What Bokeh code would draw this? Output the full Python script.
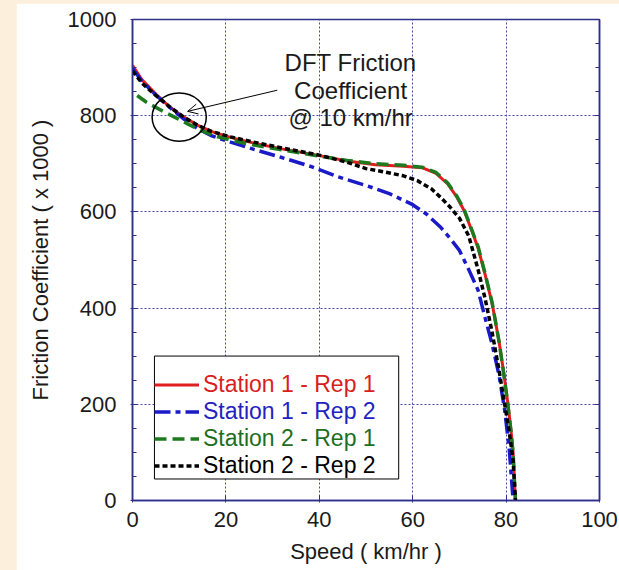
from bokeh.plotting import figure
from bokeh.models import (Range1d, LinearAxis, SingleIntervalTicker, Legend, LegendItem,
                          Arrow, OpenHead, BoxAnnotation)
from bokeh.core.properties import value
from bokeh.embed import file_html
from bokeh.resources import INLINE

# ---- data ----
s1r1_x = [0, 2, 5, 8, 11, 14, 17, 21, 26, 32, 40, 46, 52, 58, 62, 65, 67.5, 69.5, 71, 72.5, 74, 75.5, 77, 78.5, 79.5, 80.4, 81, 81.5, 82]
s1r1_y = [905, 875, 845, 818, 797, 780, 767, 755, 743, 731, 717, 706, 698, 695, 692, 680, 658, 630, 603, 565, 525, 470, 410, 330, 265, 200, 150, 100, 0]

s1r2_x = [0, 2, 5, 8, 11, 14, 17, 21, 26, 32, 38, 44, 50, 55, 60, 63, 66, 68, 70, 72, 74, 75.5, 77, 78.5, 79.7, 80.7, 81.5]
s1r2_y = [898, 872, 843, 817, 793, 773, 758, 745, 730, 713, 695, 673, 655, 638, 615, 595, 568, 545, 520, 480, 437, 380, 325, 260, 188, 104, 0]

s2r1_x = [1, 3, 6, 9, 12, 15, 18, 21, 26, 32, 40, 46, 52, 58, 62, 65, 67.5, 69.5, 71, 72.5, 74, 75.5, 77, 78.5, 79.5, 80.4, 81, 81.5, 82]
s2r1_y = [842, 828, 812, 797, 782, 768, 757, 749, 739, 729, 716, 707, 700, 697, 693, 682, 660, 632, 605, 567, 528, 472, 412, 330, 263, 198, 148, 98, 0]

s2r2_x = [0, 2, 5, 8, 11, 14, 17, 21, 26, 32, 40, 46, 50, 54, 58, 61, 64, 66, 68, 70, 72, 74, 75.5, 77, 78.5, 79.7, 80.7, 81.5, 82]
s2r2_y = [893, 868, 842, 818, 797, 780, 767, 756, 745, 733, 718, 703, 690, 683, 675, 665, 648, 630, 610, 587, 550, 480, 420, 350, 270, 200, 140, 84, 0]

series_labels = ["Station 1 - Rep 1", "Station 1 - Rep 2", "Station 2 - Rep 1", "Station 2 - Rep 2"]

# annotation (DFT friction coefficient at 10 km/hr)
dft_speed = [10]
dft_value = [797]
note_lines = ["DFT Friction", "Coefficient", "@ 10 km/hr"]
note_x = [46.7, 46.7, 46.7]
note_y = [910, 853, 796]
arrow_from = (31, 853)
arrow_to = (11.8, 809)

# legend frame (in axis units)
legend_box = dict(left=4.7, right=57.0, bottom=44.7, top=300.3)

FONT = "Liberation Sans"
AXC = "#2e2e8c"
GRIDC = "#4a4aa8"

p = figure(width=603, height=567, output_backend="svg", toolbar_location=None,
           x_range=Range1d(0, 100), y_range=Range1d(0, 1000),
           min_border_left=116, min_border_right=20, min_border_top=16, min_border_bottom=70,
           background_fill_color="white", border_fill_color="white",
           outline_line_color=AXC, outline_line_width=1.5)

# axes
p.xaxis.ticker = SingleIntervalTicker(interval=20, num_minor_ticks=0)
p.yaxis.ticker = SingleIntervalTicker(interval=200, num_minor_ticks=4)
for ax in (p.xaxis[0], p.yaxis[0]):
    ax.axis_line_color = AXC
    ax.axis_line_width = 1.5
    ax.major_tick_line_color = AXC
    ax.minor_tick_line_color = AXC
    ax.major_tick_in = 5
    ax.major_tick_out = 2
    ax.minor_tick_in = 4
    ax.minor_tick_out = 0
    ax.major_label_text_font = FONT
    ax.major_label_text_font_size = "22px"
    ax.major_label_text_color = "#1a1a1a"
    ax.axis_label_text_font = FONT
    ax.axis_label_text_font_size = "22px"
    ax.axis_label_text_font_style = "normal"
    ax.axis_label_text_color = "#1a1a1a"
p.xaxis.minor_tick_line_color = None
p.xaxis.axis_label = "Speed ( km/hr )"
p.yaxis.axis_label = "Friction Coefficient ( x 1000 )"
p.xaxis.major_label_standoff = 9
p.xaxis.axis_label_standoff = 9
p.yaxis.major_label_standoff = 14
p.yaxis.axis_label_standoff = 12

rax = LinearAxis(ticker=SingleIntervalTicker(interval=200, num_minor_ticks=4),
                 axis_line_color=AXC, axis_line_width=1.5,
                 major_tick_line_color=AXC, minor_tick_line_color=AXC,
                 major_tick_in=5, major_tick_out=0, minor_tick_in=4, minor_tick_out=0,
                 major_label_text_font_size="1px", major_label_text_color=None,
                 major_label_standoff=0)
p.add_layout(rax, "right")

# grid
p.xgrid.grid_line_color = GRIDC
p.ygrid.grid_line_color = GRIDC
p.xgrid.grid_line_dash = "2 2"
p.ygrid.grid_line_dash = "2 2"
p.xgrid.grid_line_width = 1
p.ygrid.grid_line_width = 1

# curves
r_red = p.line(s1r1_x, s1r1_y, line_color="#e01e1e", line_width=3)
r_blue = p.line(s1r2_x, s1r2_y, line_color="#1a1ac8", line_width=3.5, line_dash="16 5 5 5")
r_green = p.line(s2r1_x, s2r1_y, line_color="#1e7a1e", line_width=3.5, line_dash="12 6")
r_black = p.line(s2r2_x, s2r2_y, line_color="#000000", line_width=3.5, line_dash="5 3")
renderers = [r_red, r_blue, r_green, r_black]
text_colors = ["#d81e1e", "#2222c0", "#1e6e1e", "#000000"]

# annotation: ellipse, arrow, text
p.ellipse(x=dft_speed, y=dft_value, width=11.6, height=100, fill_color=None,
          line_color="black", line_width=1.5)
p.add_layout(Arrow(end=OpenHead(size=10, line_width=1, line_color="black"),
                   x_start=arrow_from[0], y_start=arrow_from[1],
                   x_end=arrow_to[0], y_end=arrow_to[1],
                   line_width=1, line_color="black"))
p.text(x=note_x, y=note_y, text=note_lines, text_font=value(FONT), text_font_size="24px",
       text_align="center", text_baseline="middle", text_color="#1a1a1a")

# legend: a framed box + one coloured legend per entry
p.add_layout(BoxAnnotation(fill_color="white", fill_alpha=1, line_color="black",
                           line_width=1, line_alpha=1, **legend_box))
common = dict(padding=8, spacing=0, label_height=27, glyph_height=27, glyph_width=45,
              label_standoff=4, margin=0, label_text_font=FONT, label_text_font_size="23px",
              border_line_color=None, background_fill_alpha=0)
for i, (l, r, c) in enumerate(zip(series_labels, renderers, text_colors)):
    lg = Legend(items=[LegendItem(label=l, renderers=[r])], location=(22, 21 + (3 - i) * 27),
                label_text_color=c, **common)
    p.add_layout(lg, "center")

html = file_html(p, INLINE)
html = html.replace("</head>", "<style>body{margin:3px 0 0 16px;background:#fcefdc;overflow:hidden}</style></head>", 1)
open("out.html", "w").write(html)
